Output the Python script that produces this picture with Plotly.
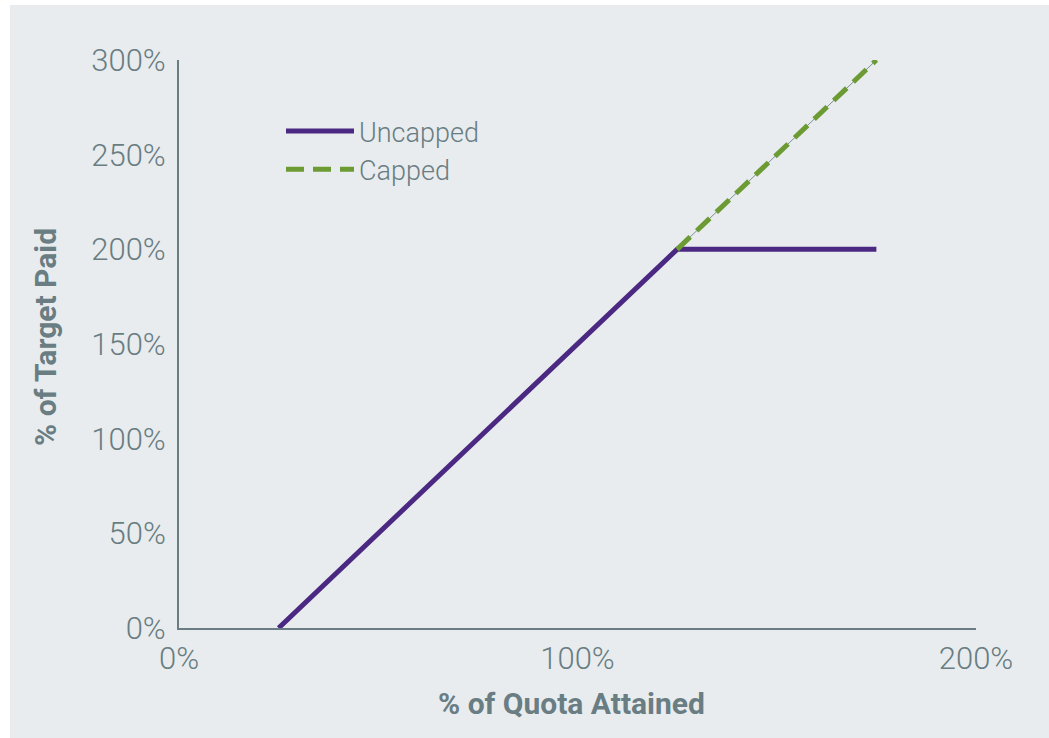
import plotly.graph_objects as go

# Pay curve: % of target paid vs % of quota attained
uncapped_x = [25, 125, 175]
uncapped_y = [0, 200, 200]
capped_x = [125, 175]
capped_y = [200, 300]

x_ticks = [0, 100, 200]
x_tick_labels = ["0%", "100%", "200%"]
y_ticks = [0, 50, 100, 150, 200, 250, 300]
y_tick_labels = ["0%", "50%", "100%", "150%", "200%", "250%", "300%"]

BG = "#e8ecee"
INK = "#697d83"
PURPLE = "#4b2882"
GREEN = "#6c9a33"

W, H = 1049, 738
L, R, T, B = 179, 73, 60, 110
PW, PH = W - L - R, H - T - B


def px_x(px):
    return (px - L) / PW


def px_y(py):
    return (H - B - py) / PH


fig = go.Figure()
fig.add_trace(go.Scatter(
    x=uncapped_x, y=uncapped_y, mode="lines", name="Uncapped",
    line=dict(color=PURPLE, width=5),
))
fig.add_trace(go.Scatter(
    x=capped_x, y=capped_y, mode="lines", showlegend=False, hoverinfo="skip",
    line=dict(color="#7d8f96", width=1),
))
fig.add_trace(go.Scatter(
    x=capped_x, y=capped_y, mode="lines", name="Capped",
    line=dict(color=GREEN, width=5, dash="18px,9px"),
))

axis_common = dict(
    showgrid=False, zeroline=False, showline=True, linecolor=INK, linewidth=2,
    ticks="", tickfont=dict(family="Roboto", size=31, color=INK, weight=300),
)
fig.update_xaxes(range=[0, 200], tickvals=x_ticks, ticktext=x_tick_labels,
                 ticklabelstandoff=2, **axis_common)
fig.update_yaxes(range=[0, 300], tickvals=y_ticks, ticktext=y_tick_labels,
                 ticklabelstandoff=5, **axis_common)

fig.add_annotation(
    text="<b>% of Quota Attained</b>", xref="paper", yref="paper",
    x=px_x(571), y=px_y(703), xanchor="center", yanchor="middle",
    showarrow=False, font=dict(family="Roboto", size=30, color=INK),
)
fig.add_annotation(
    text="<b>% of Target Paid</b>", xref="paper", yref="paper",
    x=px_x(45), y=px_y(337), xanchor="center", yanchor="middle",
    showarrow=False, textangle=-90,
    font=dict(family="Roboto", size=30, color=INK),
)

# white strips along the left and top edges
fig.add_shape(type="rect", xref="paper", yref="paper", layer="below",
              x0=px_x(-5), x1=px_x(10), y0=px_y(W), y1=px_y(-5),
              fillcolor="white", line_width=0)
fig.add_shape(type="rect", xref="paper", yref="paper", layer="below",
              x0=px_x(-5), x1=px_x(W + 5), y0=px_y(5), y1=px_y(-5),
              fillcolor="white", line_width=0)

fig.update_layout(
    width=W, height=H,
    margin=dict(l=L, r=R, t=T, b=B),
    paper_bgcolor=BG, plot_bgcolor=BG,
    legend=dict(
        x=px_x(281), y=px_y(107), xanchor="left", yanchor="top",
        bgcolor="rgba(0,0,0,0)", itemwidth=68, tracegroupgap=0,
        font=dict(family="Roboto", size=27, color=INK, weight=300),
    ),
)

fig.write_html("out.html")
